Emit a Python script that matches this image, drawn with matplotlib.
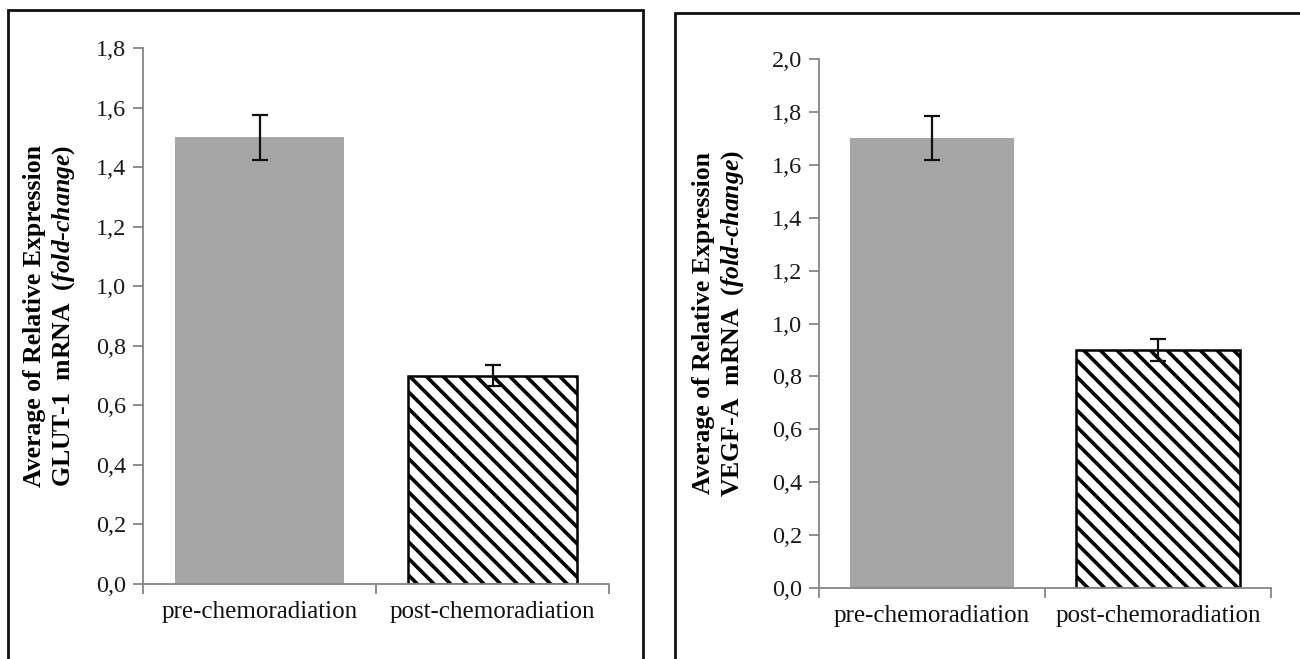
import matplotlib
matplotlib.use("Agg")
import matplotlib.pyplot as plt
from matplotlib.patches import Rectangle

# Datos
categories = ["pre-chemoradiation", "post-chemoradiation"]
glut1_mean = [1.50, 0.70]
glut1_err = [0.076, 0.035]
vegf_mean = [1.70, 0.90]
vegf_err = [0.083, 0.042]
glut1_ticks = [0.0, 0.2, 0.4, 0.6, 0.8, 1.0, 1.2, 1.4, 1.6, 1.8]
vegf_ticks = [0.0, 0.2, 0.4, 0.6, 0.8, 1.0, 1.2, 1.4, 1.6, 1.8, 2.0]

plt.rcParams["font.family"] = ["Liberation Serif", "DejaVu Serif"]
plt.rcParams["mathtext.fontset"] = "custom"
plt.rcParams["mathtext.rm"] = "Liberation Serif:bold"
plt.rcParams["mathtext.it"] = "Liberation Serif:bold:italic"
plt.rcParams["mathtext.bf"] = "Liberation Serif:bold"
plt.rcParams["hatch.linewidth"] = 2.6

SPINE = "#868686"
GRAY = "#a6a6a6"

fig = plt.figure(figsize=(13, 6.59), dpi=100)

# Marcos de los dos paneles (coordenadas de figura)
W, H = 1300, 659
fig.patches.append(Rectangle((8 / W, -0.05), (643 - 8) / W, 1.05 - 10 / H,
                             transform=fig.transFigure, fill=False,
                             edgecolor="#111111", linewidth=2))
fig.patches.append(Rectangle((675 / W, -0.05), 0.5, 1.05 - 12.5 / H,
                             transform=fig.transFigure, fill=False,
                             edgecolor="#111111", linewidth=2))


def panel(rect, means, errs, ticks, gene, label_x):
    ax = fig.add_axes(rect)
    x = [0, 1]
    ax.bar(x[0], means[0], width=0.725, color=GRAY, edgecolor="none")
    ax.bar(x[1], means[1], width=0.725, color="white", edgecolor="black",
           hatch="\\\\", linewidth=1.8)
    ax.errorbar(x, means, yerr=errs, fmt="none", ecolor="#111111",
                elinewidth=1.6, capsize=6, capthick=1.6)
    ax.set_xlim(-0.5, 1.5)
    ax.set_ylim(0, ticks[-1])
    ax.set_yticks(ticks)
    ax.set_yticklabels([f"{t:.1f}".replace(".", ",") for t in ticks],
                       fontsize=17.5, color="#1a1a1a")
    ax.set_xticks(x)
    ax.set_xticklabels(categories, fontsize=18, color="#111111")
    ax.set_xticks([-0.5, 0.5, 1.5], minor=True)
    ax.tick_params(axis="x", which="major", length=0, pad=12)
    ax.tick_params(axis="x", which="minor", length=7, color=SPINE, width=1.3)
    ax.tick_params(axis="y", length=7, color=SPINE, width=1.3, pad=5)
    for s in ["top", "right"]:
        ax.spines[s].set_visible(False)
    for s in ["left", "bottom"]:
        ax.spines[s].set_color(SPINE)
        ax.spines[s].set_linewidth(1.3)
    ax.set_ylabel("Average of Relative Expression\n"
                  + r"$\text{" + gene + r"  mRNA  }\mathit{(fold}\text{-}\mathit{change)}$",
                  fontsize=18.5, fontweight="bold", linespacing=1.2)
    ax.yaxis.set_label_coords(label_x, 0.5)
    return ax


panel([143 / W, 1 - 584 / H, (609 - 143) / W, (584 - 48) / H],
      glut1_mean, glut1_err, glut1_ticks, "GLUT-1", -0.142)
panel([819 / W, 1 - 588 / H, (1271 - 819) / W, (588 - 59) / H],
      vegf_mean, vegf_err, vegf_ticks, "VEGF-A", -0.161)

fig.savefig("out.png", dpi=100)
